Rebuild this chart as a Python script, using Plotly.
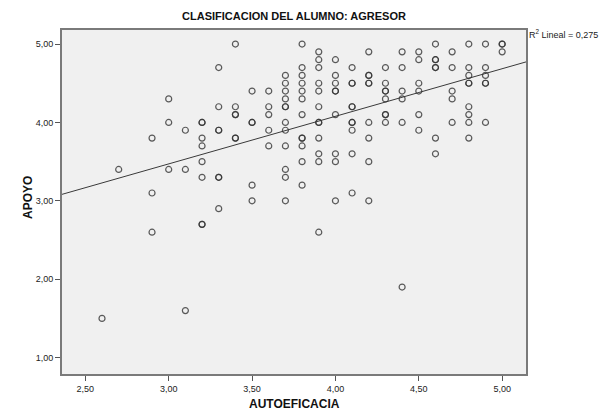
import plotly.graph_objects as go

# AUTOEFICACIA (x) and APOYO (y) values
autoeficacia = [
    2.6, 2.7, 2.9, 2.9, 2.9,
    3.0, 3.0, 3.0,
    3.1, 3.1, 3.1,
    3.2, 3.2, 3.2, 3.2, 3.2, 3.2, 3.2, 3.2,
    3.3, 3.3, 3.3, 3.3, 3.3, 3.3, 3.3,
    3.4, 3.4, 3.4, 3.4, 3.4, 3.4,
    3.5, 3.5, 3.5, 3.5, 3.5,
    3.6, 3.6, 3.6, 3.6, 3.6,
    3.7, 3.7, 3.7, 3.7, 3.7, 3.7, 3.7, 3.7, 3.7, 3.7, 3.7, 3.7,
    3.8, 3.8, 3.8, 3.8, 3.8, 3.8, 3.8, 3.8, 3.8, 3.8, 3.8, 3.8,
    3.9, 3.9, 3.9, 3.9, 3.9, 3.9, 3.9, 3.9, 3.9, 3.9, 3.9, 3.9,
    4.0, 4.0, 4.0, 4.0, 4.0, 4.0, 4.0, 4.0, 4.0,
    4.1, 4.1, 4.1, 4.1, 4.1, 4.1, 4.1, 4.1, 4.1, 4.1,
    4.2, 4.2, 4.2, 4.2, 4.2, 4.2, 4.2, 4.2, 4.2,
    4.3, 4.3, 4.3, 4.3, 4.3, 4.3, 4.3, 4.3,
    4.4, 4.4, 4.4, 4.4, 4.4, 4.4,
    4.5, 4.5, 4.5, 4.5, 4.5, 4.5,
    4.6, 4.6, 4.6, 4.6, 4.6, 4.6, 4.6,
    4.7, 4.7, 4.7, 4.7, 4.7,
    4.8, 4.8, 4.8, 4.8, 4.8, 4.8, 4.8, 4.8, 4.8,
    4.9, 4.9, 4.9, 4.9, 4.9, 4.9,
    5.0, 5.0, 5.0,
]
apoyo = [
    1.5, 3.4, 3.8, 3.1, 2.6,
    4.3, 4.0, 3.4,
    3.9, 3.4, 1.6,
    4.0, 4.0, 3.8, 3.7, 3.5, 3.3, 2.7, 2.7,
    4.7, 4.2, 3.9, 3.9, 3.3, 3.3, 2.9,
    5.0, 4.2, 4.1, 4.1, 3.8, 3.8,
    4.4, 4.0, 4.0, 3.2, 3.0,
    4.4, 4.2, 4.1, 3.9, 3.7,
    4.6, 4.5, 4.4, 4.3, 4.2, 4.2, 4.0, 3.9, 3.7, 3.4, 3.3, 3.0,
    5.0, 4.7, 4.6, 4.5, 4.4, 4.3, 4.1, 3.8, 3.8, 3.7, 3.5, 3.2,
    4.9, 4.8, 4.7, 4.5, 4.4, 4.2, 4.0, 4.0, 3.8, 3.6, 3.5, 2.6,
    4.8, 4.6, 4.5, 4.4, 4.4, 4.1, 3.6, 3.5, 3.0,
    4.7, 4.5, 4.5, 4.2, 4.2, 4.0, 4.0, 3.9, 3.6, 3.1,
    4.9, 4.6, 4.6, 4.5, 4.5, 4.0, 3.8, 3.5, 3.0,
    4.7, 4.5, 4.4, 4.4, 4.3, 4.1, 4.1, 4.0,
    4.9, 4.7, 4.4, 4.3, 4.0, 1.9,
    4.9, 4.8, 4.5, 4.4, 4.1, 3.9,
    5.0, 4.8, 4.8, 4.7, 4.7, 3.8, 3.6,
    4.9, 4.7, 4.4, 4.3, 4.0,
    5.0, 4.7, 4.6, 4.5, 4.5, 4.2, 4.1, 4.0, 3.8,
    5.0, 4.7, 4.6, 4.5, 4.5, 4.0,
    5.0, 5.0, 4.9,
]

# Linear fit line
fit_intercept = 1.65
fit_slope = 0.607
r2_text = "R<sup>2</sup> Lineal = 0,275"

x_range = [2.36, 5.143]
y_range = [0.791, 5.179]
x_ticks = [2.5, 3.0, 3.5, 4.0, 4.5, 5.0]
y_ticks = [1.0, 2.0, 3.0, 4.0, 5.0]

fig = go.Figure()
fig.add_trace(go.Scatter(
    x=x_range,
    y=[fit_intercept + fit_slope * v for v in x_range],
    mode="lines",
    line=dict(color="#3a3a3a", width=1),
    hoverinfo="skip",
    showlegend=False,
))
fig.add_trace(go.Scatter(
    x=autoeficacia, y=apoyo, mode="markers",
    marker=dict(symbol="circle-open", size=6, color="#333333",
                line=dict(width=1.2, color="#333333"), opacity=0.8),
    showlegend=False,
))

font_family = "Liberation Sans, Arial, sans-serif"
axis_common = dict(
    showgrid=False, zeroline=False,
    showline=True, linecolor="#7a7a7a", linewidth=2, mirror=True,
    ticks="outside", ticklen=5, tickcolor="#555555", tickwidth=1,
    tickfont=dict(family=font_family, size=9, color="#222222"),
    tickformat=".2f",
)

fig.update_layout(
    width=608, height=414,
    margin=dict(l=62, r=82, t=30, b=40),
    paper_bgcolor="white",
    plot_bgcolor="#f0f0f0",
    separators=",.",
    font=dict(family=font_family, color="#111111"),
    xaxis=dict(range=x_range, tickvals=x_ticks, **axis_common),
    yaxis=dict(range=y_range, tickvals=y_ticks, **axis_common),
    title=dict(text="<b>CLASIFICACION DEL ALUMNO: AGRESOR</b>",
               x=0.4836, xanchor="center", y=1 - 16 / 414, yanchor="middle",
               font=dict(family=font_family, size=11, color="#111111")),
    annotations=[
        dict(text=r2_text, xref="paper", yref="paper", x=1.003, y=0.988,
             xanchor="left", yanchor="middle", showarrow=False,
             font=dict(family=font_family, size=9, color="#222222")),
        dict(text="<b>AUTOEFICACIA</b>", xref="paper", yref="paper",
             x=0.5, y=-30 / 344, xanchor="center", yanchor="middle", showarrow=False,
             font=dict(family=font_family, size=12, color="#111111")),
        dict(text="<b>APOYO</b>", xref="paper", yref="paper",
             x=-34 / 464, y=(374 - 198) / 344, xanchor="center", yanchor="middle",
             textangle=-90, showarrow=False,
             font=dict(family=font_family, size=12, color="#111111")),
    ],
)

fig.write_html(
    "out.html",
    config={"displayModeBar": False},
    post_script="document.body.style.margin='0';document.body.style.padding='0';",
)
